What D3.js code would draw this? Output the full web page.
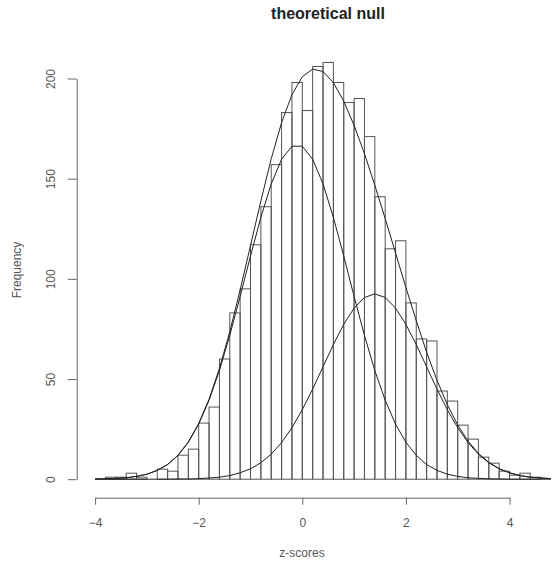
<!DOCTYPE html>
<html>
<head>
<meta charset="utf-8">
<script src="https://cdn.jsdelivr.net/npm/d3@7"></script>
<style>
  body { margin: 0; background: #fff; }
  svg { display: block; font-family: "Liberation Sans", Arial, sans-serif; }
</style>
</head>
<body>
<div id="chart"></div>
<script>
// bin start values (width 0.2) and counts
const binStarts = [-4.0, -3.8, -3.6, -3.4, -3.2, -3.0, -2.8, -2.6, -2.4, -2.2,
  -2.0, -1.8, -1.6, -1.4, -1.2, -1.0, -0.8, -0.6, -0.4, -0.2,
  0.0, 0.2, 0.4, 0.6, 0.8, 1.0, 1.2, 1.4, 1.6, 1.8,
  2.0, 2.2, 2.4, 2.6, 2.8, 3.0, 3.2, 3.4, 3.6, 3.8,
  4.0, 4.2, 4.4, 4.6];
const counts = [0, 1, 1, 3, 1, 0, 5, 4, 12, 15,
  28, 36, 60, 83, 95, 117, 136, 157, 183, 198,
  184, 206, 208, 198, 188, 190, 171, 141, 115, 119,
  88, 70, 69, 44, 39, 27, 20, 11, 8, 4,
  2, 3, 1, 0];
const binWidth = 0.2;

// points where the fitted curves are drawn (bin edges)
const curveX = [-4.0, -3.8, -3.6, -3.4, -3.2, -3.0, -2.8, -2.6, -2.4, -2.2,
  -2.0, -1.8, -1.6, -1.4, -1.2, -1.0, -0.8, -0.6, -0.4, -0.2,
  0.0, 0.2, 0.4, 0.6, 0.8, 1.0, 1.2, 1.4, 1.6, 1.8,
  2.0, 2.2, 2.4, 2.6, 2.8, 3.0, 3.2, 3.4, 3.6, 3.8,
  4.0, 4.2, 4.4, 4.6, 4.8];
const nullCurve = [0.1, 0.2, 0.4, 0.7, 1.4, 2.5, 4.4, 7.3, 11.9, 18.4,
  27.5, 39.4, 54.2, 71.8, 91.2, 111.4, 130.7, 147.4, 159.7, 166.2,
  166.2, 159.7, 147.4, 130.7, 111.4, 91.2, 71.8, 54.2, 39.4, 27.5,
  18.4, 11.9, 7.3, 4.4, 2.5, 1.4, 0.7, 0.4, 0.2, 0.1,
  0, 0, 0, 0, 0];
const altCurve = [0, 0, 0, 0, 0, 0, 0, 0, 0.1, 0.1,
  0.3, 0.6, 1.0, 1.8, 3.2, 5.2, 8.2, 12.5, 18.3, 25.7,
  34.7, 45.0, 56.1, 67.2, 77.3, 85.4, 90.7, 92.5, 90.7, 85.4,
  77.3, 67.2, 56.1, 45.0, 34.7, 25.7, 18.3, 12.5, 8.2, 5.2,
  3.2, 1.8, 1.0, 0.6, 0.3];
const totalCurve = [0.1, 0.2, 0.4, 0.7, 1.4, 2.5, 4.4, 7.4, 11.9, 18.6,
  27.8, 39.9, 55.3, 73.6, 94.4, 116.6, 138.9, 159.9, 178.0, 191.9,
  200.9, 204.7, 203.5, 197.9, 188.7, 176.6, 162.5, 146.7, 130.1, 112.9,
  95.7, 79.1, 63.4, 49.4, 37.2, 27.1, 19.0, 12.9, 8.4, 5.3,
  3.2, 1.8, 1.0, 0.6, 0.3];

const xTicks = [-4, -2, 0, 2, 4];
const yTicks = [0, 50, 100, 150, 200];

const width = 552, height = 566;

const x = d3.scaleLinear().domain([-4, 4]).range([95.1, 509.5]);
const y = d3.scaleLinear().domain([0, 200]).range([479.2, 78.5]);

const svg = d3.select("#chart").append("svg")
  .attr("width", width)
  .attr("height", height);

svg.append("rect").attr("width", width).attr("height", height).attr("fill", "#fff");

// histogram bars
svg.append("g")
  .selectAll("rect")
  .data(binStarts)
  .enter()
  .append("rect")
  .attr("x", (d) => x(d))
  .attr("y", (d, i) => y(counts[i]))
  .attr("width", (d) => x(d + binWidth) - x(d))
  .attr("height", (d, i) => y(0) - y(counts[i]))
  .attr("fill", "none")
  .attr("stroke", "#555")
  .attr("stroke-width", 1);

// fitted curves
const line = d3.line()
  .x((d, i) => x(curveX[i]))
  .y((d) => y(d));

[totalCurve, nullCurve, altCurve].forEach((c) => {
  svg.append("path")
    .datum(c)
    .attr("d", line)
    .attr("fill", "none")
    .attr("stroke", "#222")
    .attr("stroke-width", 1);
});

// y axis
const yAxis = svg.append("g")
  .attr("transform", "translate(76.7,0)")
  .call(d3.axisLeft(y).tickValues(yTicks).tickSize(9).tickSizeOuter(0));
yAxis.selectAll(".domain, .tick line").attr("stroke", "#666");
yAxis.selectAll(".tick text")
  .attr("transform", "rotate(-90)")
  .attr("x", 0)
  .attr("y", -25.5)
  .attr("dy", "0.35em")
  .attr("text-anchor", "middle")
  .attr("fill", "#555")
  .style("font-size", "12px");

// x axis
const xAxis = svg.append("g")
  .attr("transform", "translate(0,497.7)")
  .call(d3.axisBottom(x).tickValues(xTicks).tickSize(7).tickSizeOuter(0));
xAxis.selectAll(".domain, .tick line").attr("stroke", "#666");
xAxis.selectAll(".tick text")
  .attr("y", 29.5)
  .attr("dy", 0)
  .attr("fill", "#555")
  .style("font-size", "12px");

// labels
svg.append("text")
  .attr("x", 328)
  .attr("y", 19)
  .attr("text-anchor", "middle")
  .attr("fill", "#222")
  .style("font-size", "16px")
  .style("font-weight", "bold")
  .text("theoretical null");

svg.append("text")
  .attr("x", 302)
  .attr("y", 557)
  .attr("text-anchor", "middle")
  .attr("fill", "#555")
  .style("font-size", "12px")
  .text("z-scores");

svg.append("text")
  .attr("transform", "translate(21,270) rotate(-90)")
  .attr("text-anchor", "middle")
  .attr("fill", "#555")
  .style("font-size", "12px")
  .text("Frequency");
</script>
</body>
</html>
